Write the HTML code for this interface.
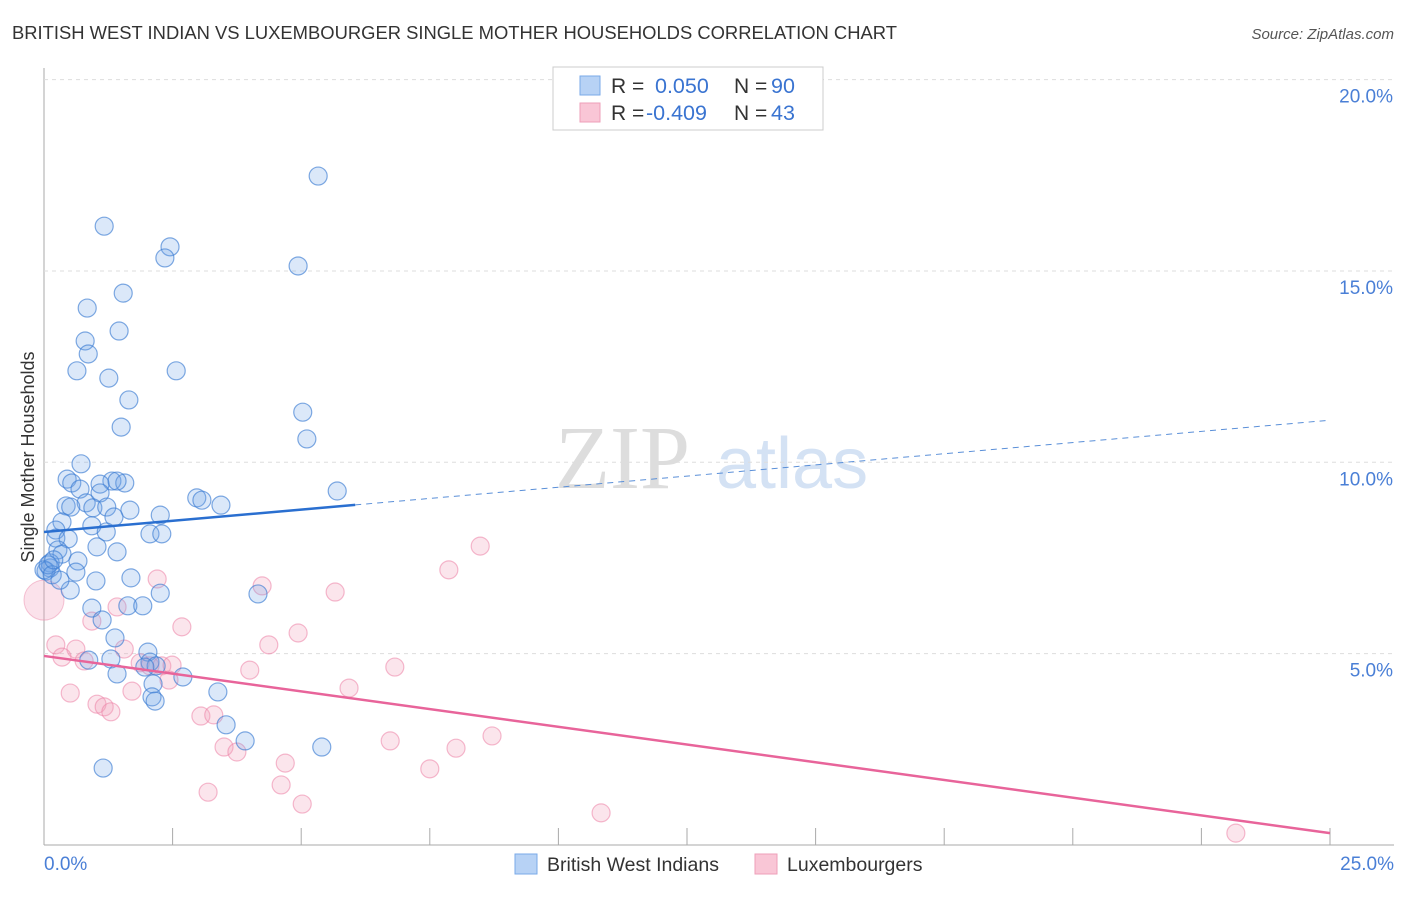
<!DOCTYPE html>
<html><head><meta charset="utf-8"><style>
body{margin:0;background:#fff;font-family:"Liberation Sans",sans-serif}
</style></head><body>
<svg id="c" width="1406" height="892" xmlns="http://www.w3.org/2000/svg" font-family="Liberation Sans, sans-serif">
<text x="12" y="39" font-size="18.4" fill="#333">BRITISH WEST INDIAN VS LUXEMBOURGER SINGLE MOTHER HOUSEHOLDS CORRELATION CHART</text>
<text x="1394" y="39" font-size="15" fill="#555" text-anchor="end" font-style="italic">Source: ZipAtlas.com</text>
<text x="555" y="488" font-size="90" fill="#ddd" font-family="Liberation Serif, serif">ZIP</text>
<text x="716" y="488" font-size="72" fill="#d4e2f4">atlas</text>
<text transform="translate(34,457) rotate(-90)" font-size="18" fill="#333" text-anchor="middle">Single Mother Households</text>
<g id="grid"></g><g id="pts"></g><g id="lines"></g>
<g>
<rect x="553" y="67" width="270" height="63" fill="#fff" stroke="#ccc"/>
<rect x="580" y="76" width="20" height="19" fill="#b7d2f5" stroke="#7aaae8"/>
<rect x="580" y="103" width="20" height="19" fill="#f9c6d6" stroke="#ee9fb8"/>
<text x="611" y="93" font-size="21" fill="#333">R =</text><text x="655" y="93" font-size="21.5" fill="#3a74d1">0.050</text>
<text x="734" y="93" font-size="21" fill="#333">N =</text><text x="771" y="93" font-size="21.5" fill="#3a74d1">90</text>
<text x="611" y="120" font-size="21" fill="#333">R =</text><text x="646" y="120" font-size="21.5" fill="#3a74d1">-0.409</text>
<text x="734" y="120" font-size="21" fill="#333">N =</text><text x="771" y="120" font-size="21.5" fill="#3a74d1">43</text>
</g>
<g>
<rect x="515" y="854" width="22" height="20" fill="#b7d2f5" stroke="#7aaae8"/>
<text x="547" y="871" font-size="19.5" fill="#333">British West Indians</text>
<rect x="755" y="854" width="22" height="20" fill="#f9c6d6" stroke="#ee9fb8"/>
<text x="787" y="871" font-size="19.5" fill="#333">Luxembourgers</text>
</g>
</svg>
<script>
const xTicks=[0,2.5,5,7.5,10,12.5,15,17.5,20,22.5,25];
const yTicks=[5,10,15,20];
const yTickLabels=["5.0%","10.0%","15.0%","20.0%"];
const blueX=[5.33,1.17,2.45,2.35,4.94,1.54,0.84,1.46,0.80,0.86,0.64,2.57,1.26,1.65,5.03,1.50,5.11,0.72,0.45,1.32,1.57,1.09,0.54,0.70,1.42,5.70,2.97,3.07,3.44,0.82,1.09,0.43,0.95,1.22,0.52,1.67,1.36,2.26,0.35,0.93,0.23,1.21,2.06,2.29,0.23,0.47,1.03,0.27,0.35,1.42,0.66,0.12,0.12,0.04,0.62,1.69,1.01,0.51,2.26,4.16,0.93,1.63,1.92,1.13,1.38,2.02,0.87,1.30,2.06,2.18,1.96,1.42,2.70,2.12,3.38,2.10,2.16,3.54,3.91,5.40,1.15,0.00,0.08,0.16,0.31,0.19];
const blueY=[17.48,16.17,15.63,15.34,15.13,14.42,14.03,13.43,13.17,12.83,12.39,12.39,12.20,11.63,11.31,10.92,10.61,9.96,9.56,9.51,9.46,9.43,9.46,9.30,9.51,9.25,9.07,9.01,8.88,8.94,9.20,8.86,8.81,8.83,8.83,8.75,8.57,8.62,8.44,8.34,8.23,8.18,8.13,8.13,8.02,8.00,7.79,7.71,7.60,7.66,7.42,7.37,7.24,7.16,7.13,6.98,6.90,6.66,6.58,6.56,6.19,6.25,6.25,5.88,5.41,5.04,4.83,4.86,4.78,4.68,4.65,4.47,4.39,4.21,4.00,3.87,3.76,3.14,2.72,2.56,2.01,7.19,7.32,7.06,6.92,7.45];
const pinkX=[8.48,7.87,2.20,4.24,5.66,1.42,0.93,2.68,4.94,4.37,0.23,0.62,1.56,0.35,0.78,1.87,2.06,2.29,2.49,4.00,6.82,2.43,5.93,0.51,1.71,1.03,1.17,1.30,3.05,3.30,6.73,8.71,8.01,3.50,3.75,4.69,7.50,4.61,3.19,5.02,10.83,23.17];
const pinkY=[7.81,7.19,6.95,6.77,6.61,6.22,5.85,5.70,5.54,5.23,5.23,5.12,5.12,4.91,4.81,4.76,4.68,4.68,4.70,4.57,4.65,4.31,4.10,3.97,4.02,3.68,3.61,3.48,3.37,3.40,2.72,2.85,2.53,2.56,2.43,2.14,1.99,1.57,1.38,1.07,0.84,0.31];
const blueTrend=[8.18,11.1]; const blueSolidEnd=6.05;
const pinkTrend=[4.94,0.31];
const NS="http://www.w3.org/2000/svg";
const X=v=>44+v*(1286/25), Y=v=>845-v*38.27;
function mk(t,a,p){const e=document.createElementNS(NS,t);for(const k in a)e.setAttribute(k,a[k]);p.appendChild(e);return e;}
const g=document.getElementById('grid');
let ax=mk('line',{x1:44,y1:68,x2:44,y2:845,stroke:'#aaa'},g);

let bx=mk('line',{x1:44,y1:845,x2:1394,y2:845,stroke:'#aaa'},g);

xTicks.forEach(t=>{const l=mk('line',{x1:X(t),y1:828,x2:X(t),y2:845,stroke:'#aaa'},g);
});
yTicks.forEach((t,i)=>{const l=mk('line',{x1:44,y1:Y(t),x2:1394,y2:Y(t),stroke:'#ddd','stroke-dasharray':'4,4'},g);

const tx=mk('text',{x:1393,y:Y(t)+23,'font-size':19,fill:'#4a7fd6','text-anchor':'end'},g);tx.textContent=yTickLabels[i];
});
const x0=mk('text',{x:44,y:870,'font-size':19,fill:'#4a7fd6'},g);x0.textContent='0.0%';

const x1=mk('text',{x:1394,y:870,'font-size':19,fill:'#4a7fd6','text-anchor':'end'},g);x1.textContent='25.0%';

const p=document.getElementById('pts');
const big=mk('circle',{cx:X(0),cy:Y(6.4),r:20,fill:'rgba(242,160,188,0.3)',stroke:'rgba(236,140,172,0.5)'},p);

pinkX.forEach((v,i)=>{const c=mk('circle',{cx:X(v),cy:Y(pinkY[i]),r:9,fill:'rgba(242,160,188,0.28)',stroke:'rgba(236,130,165,0.55)','stroke-width':1.2},p);
});
blueX.forEach((v,i)=>{const c=mk('circle',{cx:X(v),cy:Y(blueY[i]),r:9,fill:'rgba(110,165,230,0.25)',stroke:'rgba(60,125,210,0.65)','stroke-width':1.2},p);
});
const L=document.getElementById('lines');
const bAt=x=>blueTrend[0]+(blueTrend[1]-blueTrend[0])*x/25;
let l1=mk('line',{x1:X(0),y1:Y(bAt(0)),x2:X(blueSolidEnd),y2:Y(bAt(blueSolidEnd)),stroke:'#2a6fd0','stroke-width':2.5},L);

let l2=mk('line',{x1:X(blueSolidEnd),y1:Y(bAt(blueSolidEnd)),x2:X(25),y2:Y(bAt(25)),stroke:'#5a8fd8','stroke-width':1,'stroke-dasharray':'6,5'},L);

let l3=mk('line',{x1:X(0),y1:Y(pinkTrend[0]),x2:X(25),y2:Y(pinkTrend[1]),stroke:'#e8649a','stroke-width':2.5},L);

</script>
</body></html>
